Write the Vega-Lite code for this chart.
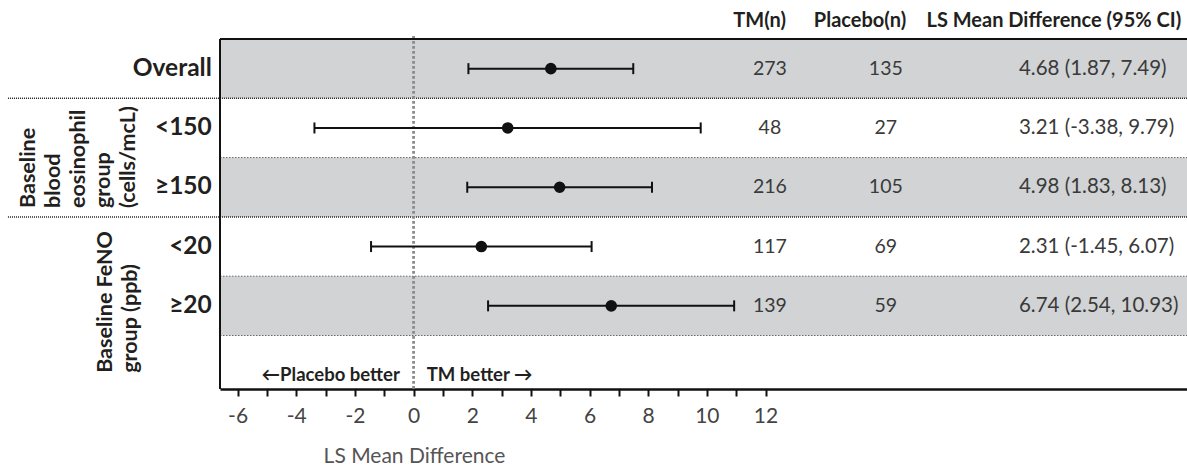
{
  "$schema": "https://vega.github.io/schema/vega-lite/v6.json",
  "width": 967,
  "height": 350,
  "autosize": {"type": "none"},
  "padding": {"left": 220, "top": 39, "right": 0, "bottom": 80},
  "config": {"view": {"stroke": null}, "font": "Lato"},
  "data": {
    "values": [
      {"label": "Overall", "row": 0, "est": 4.68, "lo": 1.87, "hi": 7.49, "tm": 273, "pl": 135, "ci": "4.68 (1.87, 7.49)"},
      {"label": "<150", "row": 1, "est": 3.21, "lo": -3.38, "hi": 9.79, "tm": 48, "pl": 27, "ci": "3.21 (-3.38, 9.79)"},
      {"label": "≥150", "row": 2, "est": 4.98, "lo": 1.83, "hi": 8.13, "tm": 216, "pl": 105, "ci": "4.98 (1.83, 8.13)"},
      {"label": "<20", "row": 3, "est": 2.31, "lo": -1.45, "hi": 6.07, "tm": 117, "pl": 69, "ci": "2.31 (-1.45, 6.07)"},
      {"label": "≥20", "row": 4, "est": 6.74, "lo": 2.54, "hi": 10.93, "tm": 139, "pl": 59, "ci": "6.74 (2.54, 10.93)"}
    ]
  },
  "encoding": {
    "y": {
      "field": "row",
      "type": "quantitative",
      "scale": {"domain": [-0.5, 5.402], "reverse": true, "nice": false, "zero": false},
      "axis": null
    }
  },
  "layer": [
    {
      "transform": [{"filter": "datum.row % 2 == 0"}],
      "mark": {"type": "rule", "color": "#d1d3d4", "strokeWidth": 59.3},
      "encoding": {}
    },
    {
      "transform": [{"filter": "datum.row == 0 || datum.row == 2"}],
      "mark": {"type": "rule", "color": "#222", "strokeWidth": 1.5, "strokeDash": [1, 1], "yOffset": 29.65},
      "encoding": {
        "x": {
          "datum": -13.83,
          "type": "quantitative",
          "scale": {"domain": [-6.6, 26.37], "nice": false, "zero": false},
          "axis": {
            "values": [-6, -5, -4, -3, -2, -1, 0, 1, 2, 3, 4, 5, 6, 7, 8, 9, 10, 11, 12],
            "labelExpr": "datum.value % 2 == 0 ? '' + datum.value : ''",
            "title": "LS Mean Difference",
            "titleX": 194,
            "titleY": 73,
            "titleAlign": "center",
            "titleBaseline": "alphabetic",
            "titleFontSize": 21,
            "titleFontWeight": "normal",
            "titleColor": "#555",
            "labelFontSize": 21,
            "labelColor": "#444",
            "labelPadding": 9,
            "labelFlush": false,
            "labelOverlap": false,
            "tickSize": 7,
            "tickWidth": 2,
            "tickColor": "#111",
            "domainColor": "#111",
            "domainWidth": 2.5,
            "grid": false
          }
        },
        "x2": {"datum": 26.37}
      }
    },
    {
      "transform": [{"filter": "datum.row == 1 || datum.row == 3 || datum.row == 4"}],
      "mark": {"type": "rule", "color": "#666", "strokeWidth": 1, "strokeDash": [1.5, 1.5], "yOffset": 29.65},
      "encoding": {
        "x": {"datum": -6.6},
        "x2": {"datum": 26.37}
      }
    },
    {
      "transform": [{"filter": "datum.row == 0"}],
      "mark": {"type": "rule", "color": "#8c8c8c", "strokeWidth": 2.8, "strokeDash": [2.6, 2.4]},
      "encoding": {
        "x": {"datum": 0},
        "y": {"datum": -0.55},
        "y2": {"datum": 5.402}
      }
    },
    {
      "transform": [{"filter": "datum.row == 0"}],
      "mark": {"type": "rule", "color": "#111", "strokeWidth": 2},
      "encoding": {
        "x": {"datum": -6.6},
        "x2": {"datum": 26.37},
        "y": {"datum": -0.5}
      }
    },
    {
      "transform": [{"filter": "datum.row == 0"}],
      "mark": {"type": "rule", "color": "#111", "strokeWidth": 2},
      "encoding": {
        "x": {"datum": -6.6},
        "y": {"datum": -0.5},
        "y2": {"datum": 5.402}
      }
    },
    {
      "mark": {"type": "rule", "color": "#111", "strokeWidth": 2},
      "encoding": {
        "x": {"field": "lo", "type": "quantitative"},
        "x2": {"field": "hi"}
      }
    },
    {
      "mark": {"type": "tick", "orient": "vertical", "color": "#111", "size": 11, "thickness": 2, "opacity": 1},
      "encoding": {"x": {"field": "lo", "type": "quantitative"}}
    },
    {
      "mark": {"type": "tick", "orient": "vertical", "color": "#111", "size": 11, "thickness": 2, "opacity": 1},
      "encoding": {"x": {"field": "hi", "type": "quantitative"}}
    },
    {
      "mark": {"type": "circle", "color": "#111", "size": 135, "opacity": 1},
      "encoding": {"x": {"field": "est", "type": "quantitative"}}
    },
    {
      "mark": {"type": "text", "align": "right", "baseline": "middle", "fontSize": 24.5, "fontWeight": "bold", "color": "#231f20"},
      "encoding": {
        "x": {"datum": -6.88},
        "text": {"field": "label"}
      }
    },
    {
      "mark": {"type": "text", "align": "center", "baseline": "middle", "fontSize": 19.5, "color": "#3a3a3a"},
      "encoding": {
        "x": {"datum": 12.15},
        "text": {"field": "tm"}
      }
    },
    {
      "mark": {"type": "text", "align": "center", "baseline": "middle", "fontSize": 19.5, "color": "#3a3a3a"},
      "encoding": {
        "x": {"datum": 16.1},
        "text": {"field": "pl"}
      }
    },
    {
      "mark": {"type": "text", "align": "left", "baseline": "middle", "fontSize": 20.5, "color": "#3a3a3a"},
      "encoding": {
        "x": {"datum": 20.64},
        "text": {"field": "ci"}
      }
    },
    {
      "transform": [{"filter": "datum.row == 0"}],
      "mark": {"type": "text", "align": "center", "baseline": "middle", "fontSize": 20, "fontWeight": "bold", "color": "#231f20"},
      "encoding": {
        "x": {"datum": 11.8},
        "y": {"datum": -0.8},
        "text": {"value": "TM(n)"}
      }
    },
    {
      "transform": [{"filter": "datum.row == 0"}],
      "mark": {"type": "text", "align": "center", "baseline": "middle", "fontSize": 20, "fontWeight": "bold", "color": "#231f20"},
      "encoding": {
        "x": {"datum": 15.22},
        "y": {"datum": -0.8},
        "text": {"value": "Placebo(n)"}
      }
    },
    {
      "transform": [{"filter": "datum.row == 0"}],
      "mark": {"type": "text", "align": "center", "baseline": "middle", "fontSize": 20, "fontWeight": "bold", "color": "#231f20"},
      "encoding": {
        "x": {"datum": 21.83},
        "y": {"datum": -0.8},
        "text": {"value": "LS Mean Difference (95% CI)"}
      }
    },
    {
      "transform": [{"filter": "datum.row == 0"}],
      "mark": {"type": "text", "align": "right", "baseline": "middle", "fontSize": 18.5, "fontWeight": "bold", "color": "#231f20"},
      "encoding": {
        "x": {"datum": -0.47},
        "y": {"datum": 5.17},
        "text": {"value": "←Placebo better"}
      }
    },
    {
      "transform": [{"filter": "datum.row == 0"}],
      "mark": {"type": "text", "align": "left", "baseline": "middle", "fontSize": 18.5, "fontWeight": "bold", "color": "#231f20"},
      "encoding": {
        "x": {"datum": 0.45},
        "y": {"datum": 5.17},
        "text": {"value": "TM better →"}
      }
    },
    {
      "transform": [{"filter": "datum.row == 0"}],
      "mark": {"type": "text", "align": "left", "baseline": "alphabetic", "angle": 270, "fontSize": 21.5, "fontWeight": "bold", "lineHeight": 25, "color": "#231f20"},
      "encoding": {
        "x": {"datum": -12.91},
        "y": {"datum": 2.35},
        "text": {"value": ["Baseline", "blood", "eosinophil", "group", "(cells/mcL)"]}
      }
    },
    {
      "transform": [{"filter": "datum.row == 0"}],
      "mark": {"type": "text", "align": "left", "baseline": "alphabetic", "angle": 270, "fontSize": 21.5, "fontWeight": "bold", "lineHeight": 25, "color": "#231f20"},
      "encoding": {
        "x": {"datum": -10.29},
        "y": {"datum": 5.13},
        "text": {"value": ["Baseline FeNO", "group (ppb)"]}
      }
    }
  ]
}
